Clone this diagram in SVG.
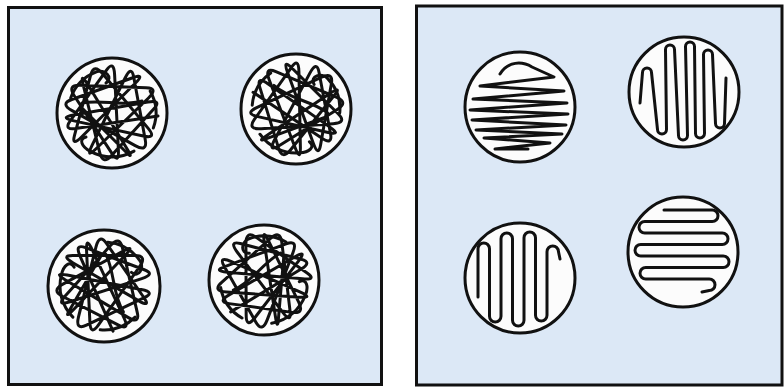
<svg xmlns="http://www.w3.org/2000/svg" width="784" height="387" viewBox="0 0 784 387">
<style>
.panel{fill:#dce8f6;stroke:#111;stroke-width:3}
.cell{fill:#fcfcfc;stroke:#111;stroke-width:3}
.ink{fill:none;stroke:#111;stroke-width:3;stroke-linecap:round;stroke-linejoin:round}
.wave{fill:none;stroke:#111;stroke-width:3;stroke-linecap:round;stroke-linejoin:round}
</style>
<defs>
<path id="tangle" d="M 46 3 L -34.6 15.3 Q -48.9 17.8 -41.8 7.9 L -5.3 -43.1 Q 1.8 -53 2.6 -38.4 L 6.4 36.9 Q 7.2 51.5 -0.1 40.4 L -37.6 -17 Q -44.9 -28.1 -32.1 -27.7 L 34 -25.3 Q 46.8 -24.9 36.5 -15 L -16.2 36 Q -26.5 45.9 -20.1 32.7 L 13.1 -35 Q 19.5 -48.2 21.7 -35.9 L 33.3 27.1 Q 35.5 39.4 23.2 32.6 L -39.9 -2.4 Q -52.2 -9.2 -40.2 -13.5 L 21.4 -35.5 Q 33.4 -39.8 23 -29.5 L -30.2 23.8 Q -40.6 34.1 -37.5 22.4 L -21.3 -38.1 Q -18.1 -49.8 -9.3 -39.2 L 36.2 15.4 Q 45 26 31.3 23 L -39.1 7.6 Q -52.8 4.6 -38.4 2.1 L 35.8 -11 Q 50.2 -13.5 41.9 -4.3 L -0.9 43 Q -9.2 52.2 -12.4 39.2 L -28.8 -28 Q -32 -41 -24.4 -28.7 L 14.4 34.8 Q 22 47.1 14.7 39.8 L -30 -5"/>
<path id="curl" d="M -41.3 -15 A 44 44 0 0 1 -15 -41.3 C -8 -44 2 -36 -6 -30 M 22 38.1 A 44 44 0 0 1 -22 38.1 C -30 34 -34 26 -26 24 M 38.1 -22 A 44 44 0 0 1 41.3 15 M -30 -10 C -10 -14 10 -6 30 -12"/>
<path id="serpA" d="M -44 11 L -41.5 -19.5 A 4.5 4.5 0 0 1 -32.5 -19.5 L -26.5 37.5 A 4.5 4.5 0 0 0 -17.5 37.5 L -18.5 -42.5 A 4.5 4.5 0 0 1 -9.5 -42.5 L -5.5 43.5 A 4.5 4.5 0 0 0 3.5 43.5 L 1.5 -45.5 A 4.5 4.5 0 0 1 10.5 -45.5 L 11.5 41.5 A 4.5 4.5 0 0 0 20.5 41.5 L 19.5 -37.5 A 4.5 4.5 0 0 1 28.5 -37.5 L 31.5 31.5 A 4.5 4.5 0 0 0 40.5 31.5 L 42 -14"/>
<path id="serpB" d="M -42 19 L -42 -29.25 A 5.75 5.75 0 0 1 -30.5 -29.25 L -30.5 38.25 A 5.75 5.75 0 0 0 -19 38.25 L -19 -39.25 A 5.75 5.75 0 0 1 -7.5 -39.25 L -7.5 42.25 A 5.75 5.75 0 0 0 4 42.25 L 4 -40.25 A 5.75 5.75 0 0 1 15.5 -40.25 L 15.5 37.25 A 5.75 5.75 0 0 0 27 37.25 L 27 -26.25 A 5.75 5.75 0 0 1 38.5 -26.25 L 40 -19"/>
<path id="zig" d="M -20 -33 C -12 -46 2 -46 12 -40 L 34 -30 L -40 -21 L 44 -16 L -47 -8 L 47 -4 L -50 3 L 48 7 L -48 13 L 46 18 L -44 23 L 42 27 L -36 31 L 30 36 L -25 42 L 8 42"/>
</defs>
<g id="panel-left">
<rect class="panel" x="8.5" y="7.5" width="373" height="377"/>
</g>
<g id="panel-right">
<rect class="panel" x="416.5" y="6" width="365.5" height="379"/>
</g>
<g id="left-1" transform="translate(112,113)">
<circle class="cell" r="55"/>
<use href="#tangle" class="ink"/><use href="#curl" class="ink"/>
</g>
<g id="left-2" transform="translate(296,109)">
<circle class="cell" r="55"/>
<g transform="rotate(25) scale(-1,1)"><use href="#tangle" class="ink"/><use href="#curl" class="ink"/></g>
</g>
<g id="left-3" transform="translate(104,286)">
<circle class="cell" r="56"/>
<g transform="rotate(75)"><use href="#tangle" class="ink"/><use href="#curl" class="ink"/></g>
</g>
<g id="left-4" transform="translate(264,280)">
<circle class="cell" r="55"/>
<g transform="rotate(-40) scale(-1,1)"><use href="#tangle" class="ink"/><use href="#curl" class="ink"/></g>
</g>
<g id="right-1" transform="translate(520,107)">
<circle class="cell" r="55"/>
<use href="#zig" class="wave"/>
</g>
<g id="right-2" transform="translate(684,92)">
<circle class="cell" r="55"/>
<use href="#serpA" class="wave"/>
</g>
<g id="right-3" transform="translate(520,278)">
<circle class="cell" r="55"/>
<use href="#serpB" class="wave"/>
</g>
<g id="right-4" transform="translate(683,252)">
<circle class="cell" r="55"/>
<g transform="rotate(90)"><use href="#serpB" class="wave"/></g>
</g>
</svg>
